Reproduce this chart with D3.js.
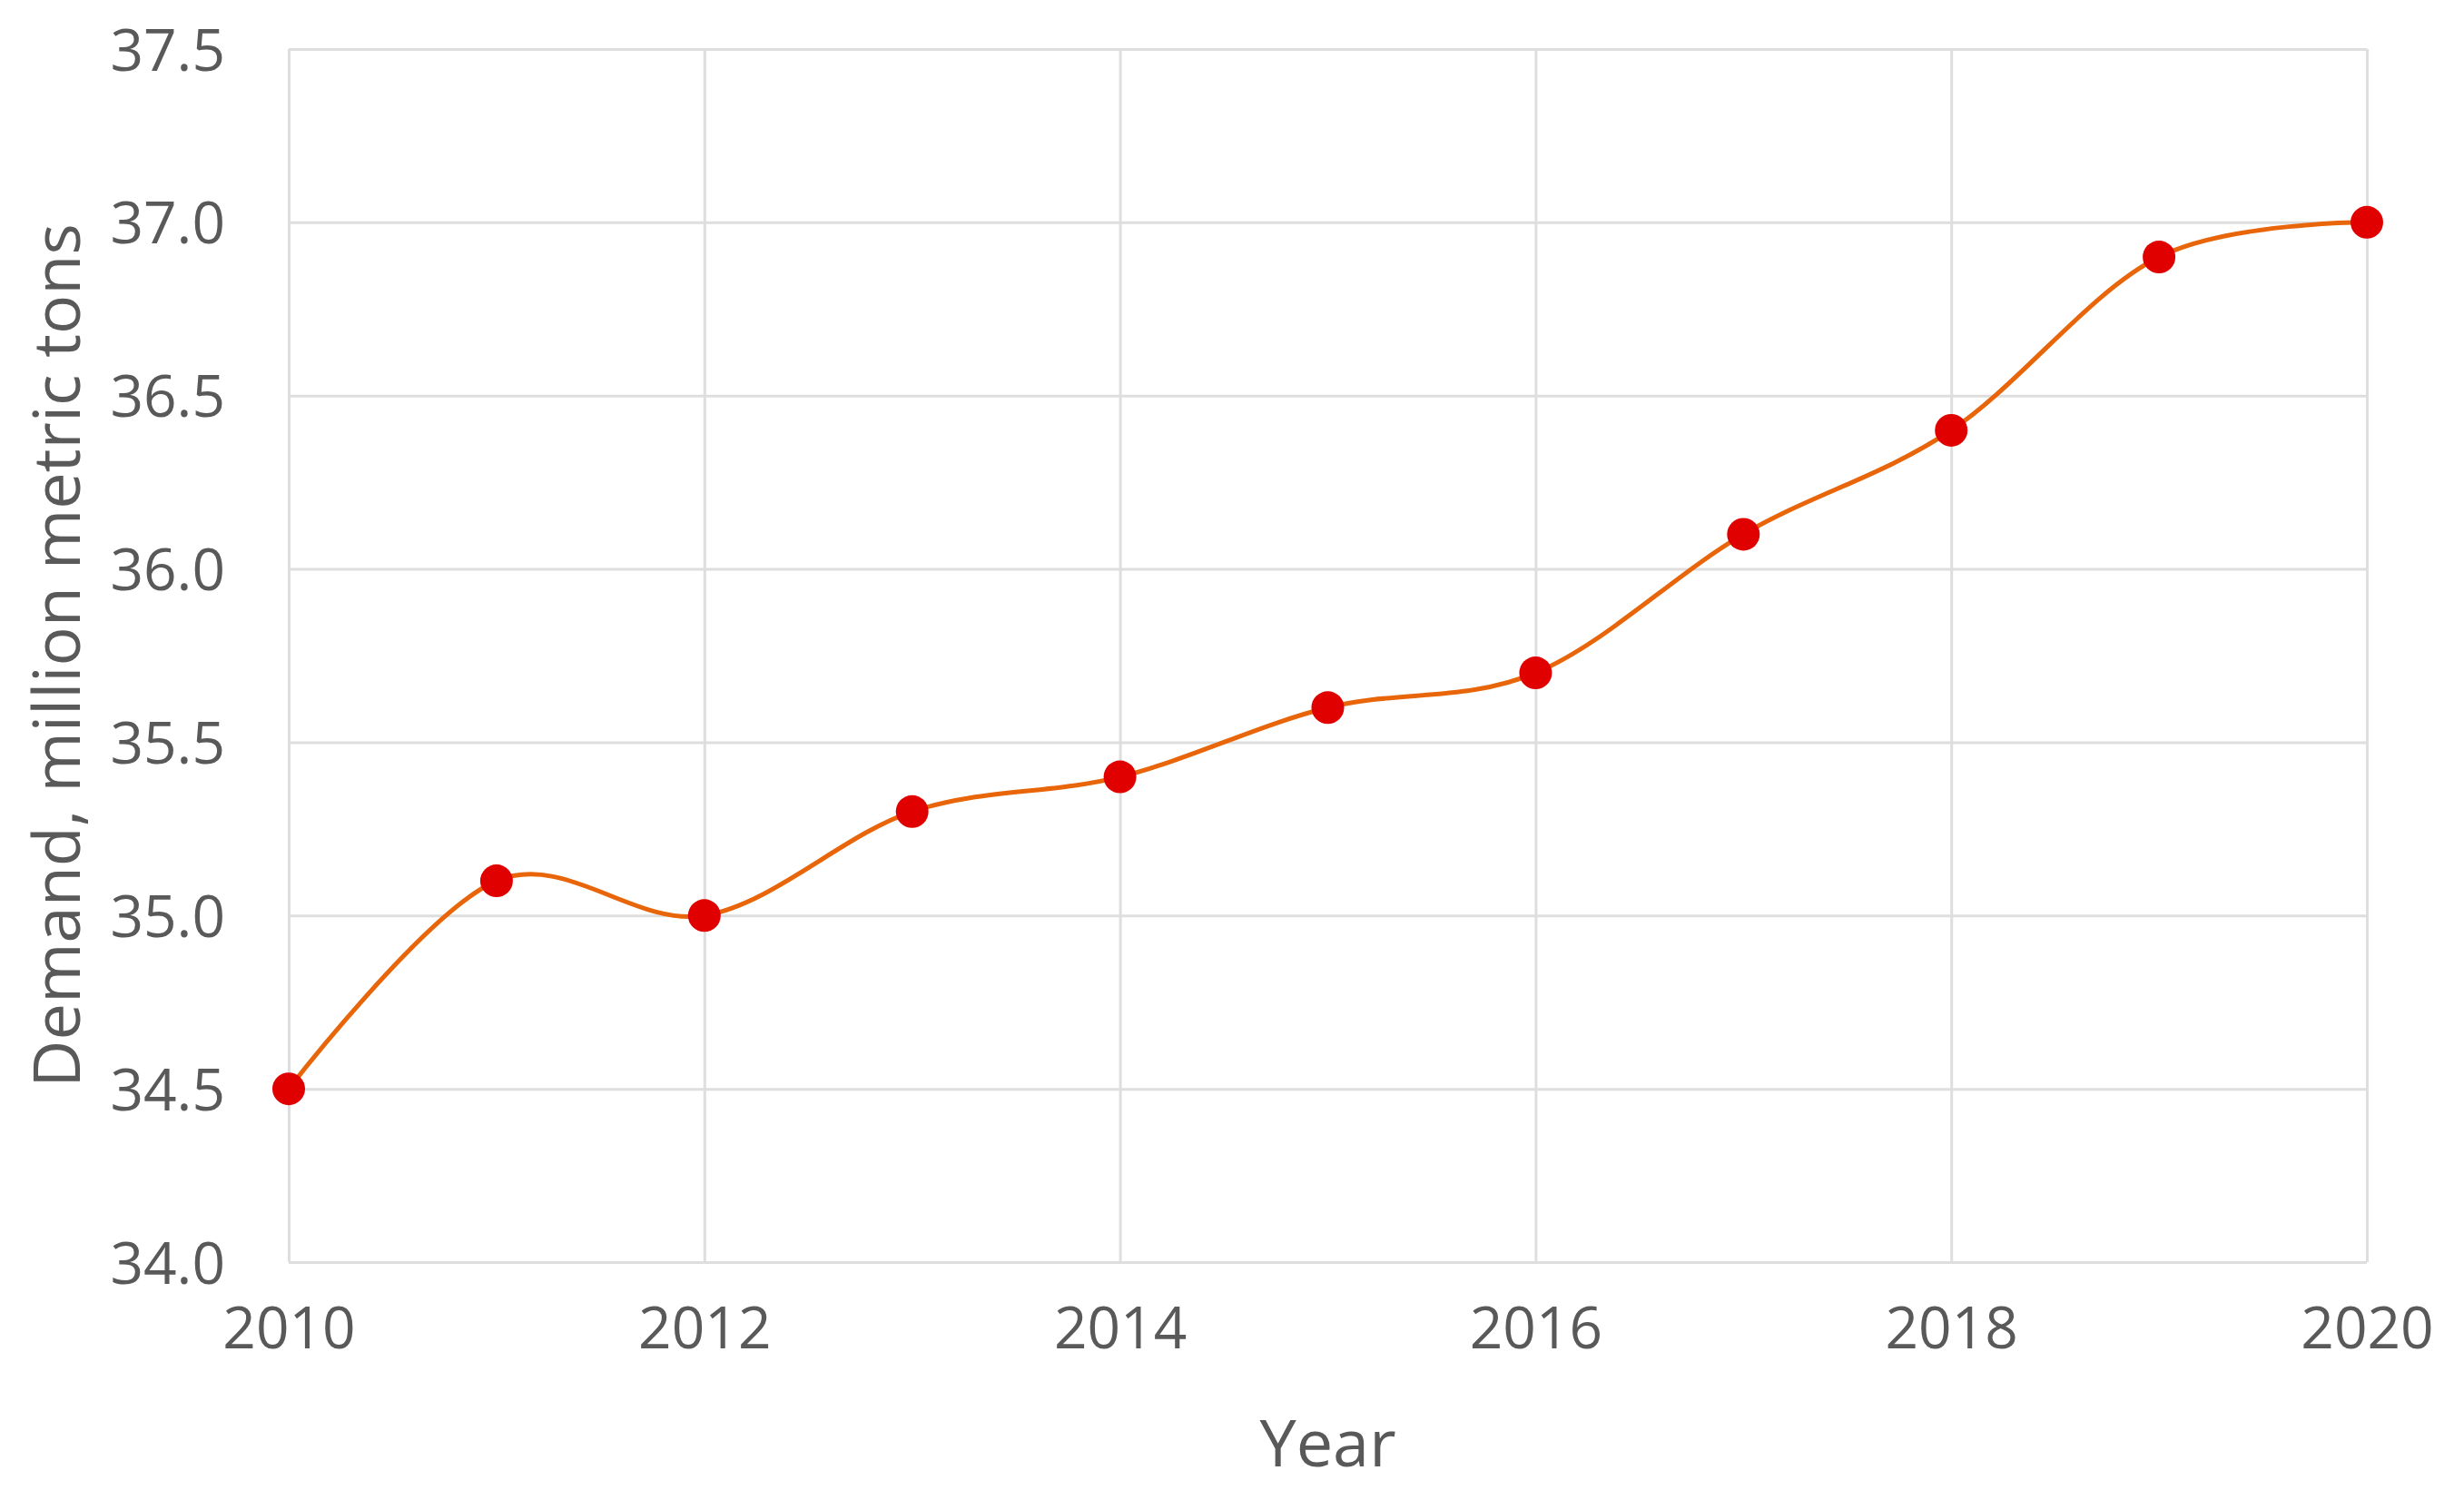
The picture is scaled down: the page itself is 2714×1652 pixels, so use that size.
<!DOCTYPE html>
<html>
<head>
<meta charset="utf-8">
<script src="https://cdn.jsdelivr.net/npm/d3@7"></script>
<style>
  html, body { margin: 0; padding: 0; background: #ffffff; }
  svg { display: block; }
</style>
</head>
<body>
<svg id="chart" width="2714" height="1652"></svg>
<script>
const years = [2010, 2011, 2012, 2013, 2014, 2015, 2016, 2017, 2018, 2019, 2020];
const demand = [34.5, 35.1, 35.0, 35.3, 35.4, 35.6, 35.7, 36.1, 36.4, 36.9, 37.0];
const xTicks = [2010, 2012, 2014, 2016, 2018, 2020];
const yTicks = [34.0, 34.5, 35.0, 35.5, 36.0, 36.5, 37.0, 37.5];
const xTitle = "Year";
const yTitle = "Demand, million metric tons";

const W = 2714, H = 1652;
const margin = { left: 318, right: W - 2607, top: 54, bottom: H - 1390 };
const svg = d3.select("#chart");
const font = "'Open Sans', 'Noto Sans', sans-serif";
const textColor = "#595959";
const gridColor = "#dedede";

const x = d3.scaleLinear().domain([2010, 2020]).range([margin.left, W - margin.right]);
const y = d3.scaleLinear().domain([34.0, 37.5]).range([H - margin.bottom, margin.top]);

// horizontal gridlines (y axis)
const yAxis = d3.axisLeft(y).tickValues(yTicks).tickSize(-(x.range()[1] - x.range()[0])).tickPadding(70)
  .tickFormat(d3.format(".1f"));
const gy = svg.append("g").attr("transform", `translate(${margin.left},0)`).call(yAxis);
gy.select(".domain").remove();
gy.selectAll(".tick line").attr("stroke", gridColor).attr("stroke-width", 3);
gy.selectAll(".tick text").attr("fill", textColor).style("font-family", font).style("font-size", "64px")
  .attr("dy", "0.36em");

// vertical gridlines (x axis)
const xAxis = d3.axisBottom(x).tickValues(xTicks).tickSize(-(y.range()[0] - y.range()[1])).tickPadding(50)
  .tickFormat(d3.format("d"));
const gx = svg.append("g").attr("transform", `translate(0,${H - margin.bottom})`).call(xAxis);
gx.select(".domain").remove();
gx.selectAll(".tick line").attr("stroke", gridColor).attr("stroke-width", 3);
gx.selectAll(".tick text").attr("fill", textColor).style("font-family", font).style("font-size", "64px")
  .attr("dy", "0.71em");

// line
const line = d3.line()
  .x((d, i) => x(years[i]))
  .y(d => y(d))
  .curve(d3.curveCardinal.tension(0));
svg.append("path")
  .datum(demand)
  .attr("d", line)
  .attr("fill", "none")
  .attr("stroke", "#e8650a")
  .attr("stroke-width", 5);

// markers
svg.append("g").selectAll("circle")
  .data(demand)
  .join("circle")
  .attr("cx", (d, i) => x(years[i]))
  .attr("cy", d => y(d))
  .attr("r", 18)
  .attr("fill", "#e00000");

// titles
svg.append("text")
  .attr("x", (x.range()[0] + x.range()[1]) / 2)
  .attr("y", 1589)
  .attr("dy", "0.36em")
  .attr("text-anchor", "middle")
  .attr("fill", textColor)
  .style("font-family", font)
  .style("font-size", "72px")
  .text(xTitle);

svg.append("text")
  .attr("transform", `translate(62,${(y.range()[0] + y.range()[1]) / 2}) rotate(-90)`)
  .attr("dy", "0.36em")
  .attr("text-anchor", "middle")
  .attr("fill", textColor)
  .style("font-family", font)
  .style("font-size", "72px")
  .text(yTitle);
</script>
</body>
</html>
